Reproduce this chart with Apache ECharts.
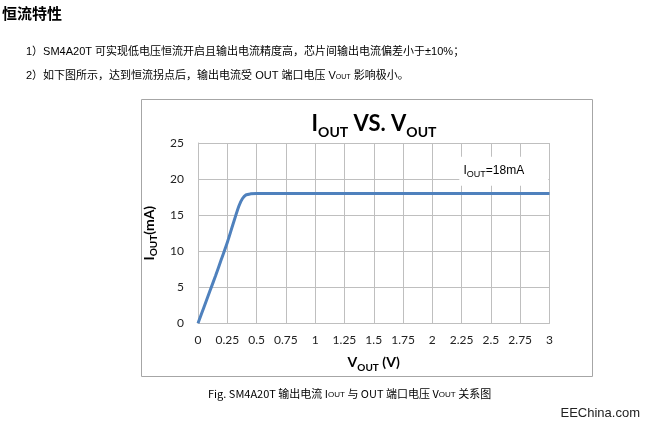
<!DOCTYPE html>
<html><head><meta charset="utf-8">
<script src="https://cdn.jsdelivr.net/npm/echarts@6/dist/echarts.min.js"></script>
<style>html,body{margin:0;padding:0;background:#fff}#c{width:648px;height:428px}</style>
</head><body><div id="c"></div>
<script>
const vout = [0, 0.05, 0.1, 0.15, 0.2, 0.25, 0.3, 0.35, 0.38, 0.41, 0.45, 0.5, 0.75, 1, 1.25, 1.5, 1.75, 2, 2.25, 2.5, 2.75, 3];
const iout = [0, 2.2, 4.4, 6.6, 8.9, 11.2, 13.8, 16.3, 17.3, 17.8, 17.95, 18, 18, 18, 18, 18, 18, 18, 18, 18, 18, 18];
const xTicks = [0, 0.25, 0.5, 0.75, 1, 1.25, 1.5, 1.75, 2, 2.25, 2.5, 2.75, 3];
const yTicks = [0, 5, 10, 15, 20, 25];
const pageTitle = '恒流特性';
const line1 = '1）SM4A20T 可实现低电压恒流开启且输出电流精度高，芯片间输出电流偏差小于±10%；';
const line2a = '2）如下图所示，达到恒流拐点后，输出电流受 OUT 端口电压 V';
const line2b = '影响极小。';
const capA = 'Fig. SM4A20T 输出电流 I', capB = ' 与 OUT 端口电压 V', capC = ' 关系图';
const watermark = 'EEChina.com';

const chart = echarts.init(document.getElementById('c'), null, {renderer: 'canvas'});
const cjk = '"Liberation Sans", "Noto Sans CJK SC", sans-serif';
const cal = 'Lato, "Open Sans", sans-serif';
const big = (fs, lh, pb) => ({fontSize: fs, fontWeight: 'bold', fontFamily: cal, color: '#000', lineHeight: lh, verticalAlign: 'bottom', padding: [0, 0, pb, 0]});
chart.setOption({
  animation: false,
  backgroundColor: '#fff',
  title: {
    text: '{a|I}{s|OUT}{a| VS. V}{s|OUT}',
    left: 369, top: 106, textAlign: 'center',
    textStyle: {rich: {a: big(22, 28, 4), s: big(14, 28, 0)}}
  },
  grid: {left: 198, right: 98.5, top: 143, bottom: 104.7},
  xAxis: {
    type: 'value', min: 0, max: 3, interval: 0.25,
    name: '{a|V}{s|OUT}{a| (V)}', nameLocation: 'middle', nameGap: 29,
    nameTextStyle: {rich: {a: big(14, 20, 3), s: big(10, 20, 0)}},
    axisLine: {show: true, lineStyle: {color: '#bfbfbf', width: 1}},
    axisTick: {show: false},
    axisLabel: {fontSize: 12, fontFamily: cal, color: '#222', margin: 11,
      formatter: v => xTicks.includes(v) ? String(v) : ''},
    splitLine: {show: true, lineStyle: {color: '#bfbfbf', width: 1}}
  },
  yAxis: {
    type: 'value', min: 0, max: 25, interval: 5,
    name: '{a|I}{s|OUT}{a|(mA)}', nameLocation: 'middle', nameGap: 24, nameRotate: 90,
    nameTextStyle: {rich: {a: big(14, 20, 3), s: big(10, 20, 0)}},
    axisLine: {show: true, lineStyle: {color: '#bfbfbf', width: 1}},
    axisTick: {show: false},
    axisLabel: {fontSize: 12, fontFamily: cal, color: '#222', margin: 14,
      formatter: v => yTicks.includes(v) ? String(v) : ''},
    splitLine: {show: true, lineStyle: {color: '#bfbfbf', width: 1}}
  },
  series: [{
    type: 'line', data: vout.map((v, i) => [v, iout[i]]), smooth: 0.3, showSymbol: false,
    lineStyle: {color: '#4f81bd', width: 3}, z: 3,
    markPoint: {
      symbol: 'rect', symbolSize: [89, 29], z: 4,
      itemStyle: {color: '#fff'},
      data: [{coord: [2.61, 21.1]}],
      label: {show: true, position: 'inside', offset: [-10, 0],
        formatter: '{a|I}{s|OUT}{a|=18mA}',
        rich: {
          a: {fontSize: 12, fontFamily: '"Liberation Sans Narrow", "Liberation Sans", sans-serif', color: '#000', lineHeight: 16, verticalAlign: 'bottom', padding: [0,0,2,0]},
          s: {fontSize: 9, fontFamily: '"Liberation Sans Narrow", "Liberation Sans", sans-serif', color: '#000', lineHeight: 16, verticalAlign: 'bottom'}
        }}
    }
  }],
  graphic: [
    {type: 'rect', shape: {x: 141.5, y: 99.5, width: 451, height: 277}, style: {fill: null, stroke: '#a6a6a6', lineWidth: 1}, z: -1},
    {type: 'text', left: 2, top: 6, style: {text: pageTitle, font: 'bold 15px "Noto Sans CJK SC", sans-serif', fill: '#000'}},
    {type: 'text', left: 26, top: 46, style: {text: line1, font: '11px ' + cjk, fill: '#000'}},
    {type: 'text', left: 26, top: 70, style: {
      text: '{a|' + line2a + '}{s|OUT}{a| ' + line2b + '}',
      rich: {a: {fontSize: 11, fontFamily: cjk, color: '#000', lineHeight: 16, verticalAlign: 'bottom'},
             s: {fontSize: 7, fontFamily: cjk, color: '#000', lineHeight: 15, verticalAlign: 'bottom'}}}},
    {type: 'text', left: 208, top: 388, style: {
      text: '{a|' + capA + '}{s|OUT}{a|' + capB + '}{s|OUT}{a|' + capC + '}',
      rich: {a: {fontSize: 11, fontFamily: '"Liberation Sans Narrow", "Noto Sans CJK SC", sans-serif', color: '#000', lineHeight: 14, verticalAlign: 'bottom'},
             s: {fontSize: 8, fontFamily: '"Liberation Sans Narrow", sans-serif', color: '#000', lineHeight: 13, verticalAlign: 'bottom'}}}},
    {type: 'text', right: 8, top: 407, style: {text: watermark, font: '13px "Liberation Sans", sans-serif', fill: '#222'}}
  ]
});
</script></body></html>
